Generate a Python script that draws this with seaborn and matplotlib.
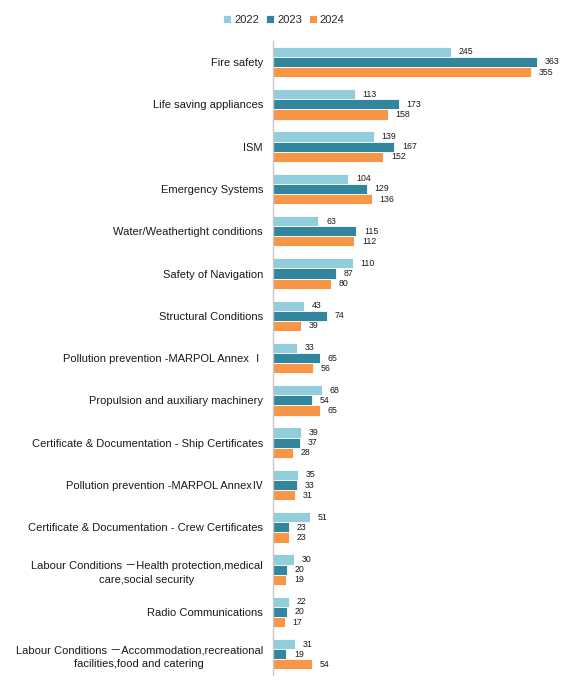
import matplotlib
matplotlib.use("Agg")
import matplotlib.pyplot as plt
import seaborn as sns
import pandas as pd

categories = [
    "Fire safety",
    "Life saving appliances",
    "ISM",
    "Emergency Systems",
    "Water/Weathertight conditions",
    "Safety of Navigation",
    "Structural Conditions",
    "Pollution prevention -MARPOL Annex Ⅰ",
    "Propulsion and auxiliary machinery",
    "Certificate & Documentation - Ship Certificates",
    "Pollution prevention -MARPOL AnnexⅣ",
    "Certificate & Documentation - Crew Certificates",
    "Labour Conditions －Health protection,medical\ncare,social security",
    "Radio Communications",
    "Labour Conditions －Accommodation,recreational\nfacilities,food and catering",
]
years = ["2022", "2023", "2024"]
v2022 = [245, 113, 139, 104, 63, 110, 43, 33, 68, 39, 35, 51, 30, 22, 31]
v2023 = [363, 173, 167, 129, 115, 87, 74, 65, 54, 37, 33, 23, 20, 20, 19]
v2024 = [355, 158, 152, 136, 112, 80, 39, 56, 65, 28, 31, 23, 19, 17, 54]
colors = ["#92CDDC", "#31859C", "#F79646"]

rows = []
for yr, vals in zip(years, [v2022, v2023, v2024]):
    for c, v in zip(categories, vals):
        rows.append({"category": c, "year": yr, "value": v})
df = pd.DataFrame(rows)

sns.set_style("white")
plt.rcParams["font.family"] = ["Liberation Sans", "Noto Sans CJK SC", "DejaVu Sans"]

fig = plt.figure(figsize=(5.68, 6.92), dpi=100)
ax = fig.add_axes([0.48, 0.024, 0.51, 0.917])

sns.barplot(data=df, y="category", x="value", hue="year", order=categories,
            hue_order=years, palette=colors, saturation=1, orient="h", width=0.72,
            edgecolor="white", linewidth=0.6, ax=ax, legend=True)

for cont in ax.containers:
    ax.bar_label(cont, padding=5.5, fontsize=6.3, color="#1a1a1a")

ax.set_xlim(0, 398)
ax.set_xlabel("")
ax.set_ylabel("")
ax.set_xticks([])
for s in ["top", "right", "bottom"]:
    ax.spines[s].set_visible(False)
ax.spines["left"].set_color("#C8C8C8")
ax.spines["left"].set_linewidth(1)
ax.tick_params(axis="y", length=0, pad=7, labelsize=8, labelcolor="#1a1a1a")
for t in ax.get_yticklabels():
    t.set_multialignment("center")
    t.set_linespacing(1.5)

handles, labels = ax.get_legend_handles_labels()
ax.legend_.remove()
fig.legend(handles, labels, loc="center", bbox_to_anchor=(0.5, 0.971), ncol=3,
           frameon=False, fontsize=8, handlelength=0.7, handleheight=0.7,
           handletextpad=0.3, columnspacing=0.6)

fig.savefig("out.png", dpi=100)
